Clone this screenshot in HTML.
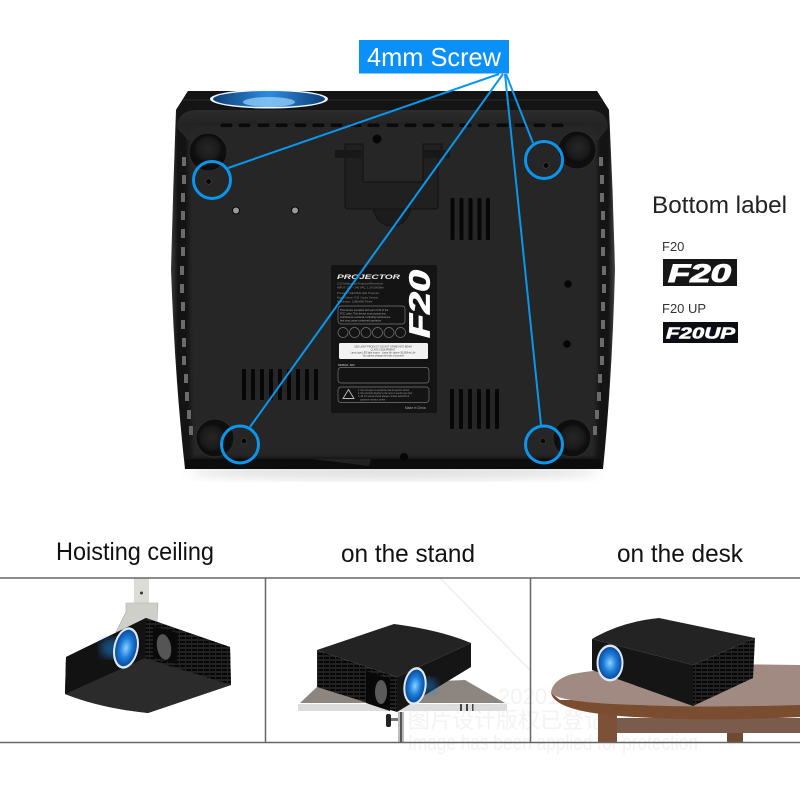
<!DOCTYPE html>
<html lang="en"><head><meta charset="utf-8"><title>F20 projector bottom view</title>
<style>html,body{margin:0;padding:0;background:#fff}svg{display:block}text{font-family:"Liberation Sans","Noto Sans CJK SC",sans-serif}</style></head>
<body>
<svg width="800" height="800" viewBox="0 0 800 800" xmlns="http://www.w3.org/2000/svg">
<defs>
<linearGradient id="shell" x1="0" x2="1" y1="0" y2="0"><stop offset="0" stop-color="#3a3a3a"/><stop offset=".015" stop-color="#141414"/><stop offset=".985" stop-color="#141414"/><stop offset="1" stop-color="#444"/></linearGradient>
<linearGradient id="band" x1="0" x2="0" y1="0" y2="1"><stop offset="0" stop-color="#2c2c2c"/><stop offset=".5" stop-color="#232323"/><stop offset="1" stop-color="#282828"/></linearGradient>
<linearGradient id="lensTop" x1="0" x2="1" y1="0" y2="0"><stop offset="0" stop-color="#0d3f78"/><stop offset=".5" stop-color="#2f8be0"/><stop offset="1" stop-color="#0d3f78"/></linearGradient>
<radialGradient id="lens" cx="50%" cy="50%" r="55%"><stop offset="0" stop-color="#8fd0fb"/><stop offset=".5" stop-color="#1c7fdc"/><stop offset="1" stop-color="#0a3f8c"/></radialGradient>
<radialGradient id="foot" cx="50%" cy="45%" r="55%"><stop offset="0" stop-color="#262626"/><stop offset=".7" stop-color="#1a1a1a"/><stop offset="1" stop-color="#0a0a0a"/></radialGradient>
<filter id="blur"><feGaussianBlur stdDeviation="5"/></filter>
<filter id="glow"><feGaussianBlur stdDeviation="4"/></filter>
<filter id="soft"><feGaussianBlur stdDeviation="2"/></filter>
<pattern id="grill" width="6" height="4" patternUnits="userSpaceOnUse"><rect width="6" height="4" fill="#222"/><rect x="0" y="1" width="5" height="2" fill="#070707"/></pattern>
</defs>
<rect width="800" height="800" fill="#fff"/>

<!-- shadow -->
<ellipse cx="394" cy="472" rx="205" ry="8" fill="#c4c4c4" opacity=".5" filter="url(#blur)"/>

<!-- main body -->
<path d="M188 91H597L609 110Q613 190 615 270Q612 380 603 469H185Q175 380 171 270Q173 190 176 110Z" fill="url(#shell)"/>
<path d="M188 91H597L609 110H176Z" fill="#141414"/>
<path d="M183 100H603" stroke="#2c2c2c" stroke-width="1"/>
<ellipse cx="269" cy="99" rx="59" ry="9.500" fill="#eef6ff"/>
<ellipse cx="269" cy="99" rx="56" ry="8" fill="url(#lensTop)"/>
<ellipse cx="269" cy="102" rx="26" ry="5" fill="#9fd6fb" opacity=".7"/>

<path d="M177 128Q177 111 196 110H590Q608 111 608 128L598 140H188Z" fill="url(#band)"/>
<path d="M196 126H590Q597 130 598 142L598 370L595 457H192L190 370L188 142Q189 130 196 126Z" fill="#282828" filter="url(#soft)"/>
<path d="M186 459H600L603 469H185Z" fill="#0c0c0c"/>
<path d="M312 459L369 466L371 459Z" fill="#222"/>

<!-- top slots -->
<g fill="#0a0a0a" stroke="#3a3a3a" stroke-width=".4">
<rect x="220" y="123" width="13" height="4.500" rx="2"/><rect x="238" y="123" width="13" height="4.500" rx="2"/><rect x="257" y="123" width="13" height="4.500" rx="2"/><rect x="275" y="123" width="13" height="4.500" rx="2"/><rect x="294" y="123" width="13" height="4.500" rx="2"/><rect x="312" y="123" width="13" height="4.500" rx="2"/><rect x="330" y="123" width="13" height="4.500" rx="2"/><rect x="349" y="123" width="13" height="4.500" rx="2"/><rect x="367" y="123" width="13" height="4.500" rx="2"/><rect x="386" y="123" width="13" height="4.500" rx="2"/><rect x="404" y="123" width="13" height="4.500" rx="2"/><rect x="422" y="123" width="13" height="4.500" rx="2"/><rect x="441" y="123" width="13" height="4.500" rx="2"/><rect x="459" y="123" width="13" height="4.500" rx="2"/><rect x="477" y="123" width="13" height="4.500" rx="2"/><rect x="496" y="123" width="13" height="4.500" rx="2"/><rect x="514" y="123" width="13" height="4.500" rx="2"/><rect x="533" y="123" width="13" height="4.500" rx="2"/><rect x="551" y="123" width="13" height="4.500" rx="2"/>
</g>
<!-- side slots -->
<g fill="#6b6b6b">
<rect x="182" y="157" width="4" height="9"/><rect x="182" y="175" width="4" height="9"/><rect x="181" y="193" width="4" height="9"/><rect x="181" y="211" width="4" height="9"/><rect x="181" y="229" width="4" height="9"/><rect x="181" y="247" width="4" height="9"/><rect x="180" y="266" width="4" height="9"/><rect x="180" y="284" width="4" height="9"/><rect x="181" y="302" width="4" height="9"/><rect x="181" y="320" width="4" height="9"/><rect x="182" y="338" width="4" height="9"/><rect x="182" y="356" width="4" height="9"/><rect x="184" y="374" width="4" height="9"/><rect x="185" y="392" width="4" height="9"/><rect x="187" y="410" width="4" height="9"/><rect x="189" y="426" width="4" height="9"/>
<rect x="599" y="157" width="4" height="9"/><rect x="600" y="175" width="4" height="9"/><rect x="600" y="193" width="4" height="9"/><rect x="601" y="211" width="4" height="9"/><rect x="601" y="229" width="4" height="9"/><rect x="601" y="247" width="4" height="9"/><rect x="602" y="266" width="4" height="9"/><rect x="602" y="284" width="4" height="9"/><rect x="601" y="302" width="4" height="9"/><rect x="601" y="320" width="4" height="9"/><rect x="600" y="338" width="4" height="9"/><rect x="600" y="356" width="4" height="9"/><rect x="598" y="374" width="4" height="9"/><rect x="597" y="392" width="4" height="9"/><rect x="595" y="410" width="4" height="9"/><rect x="593" y="426" width="4" height="9"/>
</g>

<!-- hinge -->
<path d="M373 209Q378 226 392 226Q406 226 411 209Z" fill="#1c1c1c" stroke="#141414"/>
<path d="M345 158V144H363V182H423V144H442V158H438V206Q438 209 435 209H348Q345 209 345 206Z" fill="#202020" stroke="#111" stroke-width="1"/>
<rect x="335" y="150" width="26" height="8" fill="#181818"/><rect x="424" y="150" width="26" height="8" fill="#181818"/>
<circle cx="377" cy="139" r="4.500" fill="#060606"/>

<!-- vents -->
<g fill="#070707">
<rect x="450.500" y="198" width="4" height="42" rx="1"/><rect x="459.500" y="198" width="4" height="42" rx="1"/><rect x="468.500" y="198" width="4" height="42" rx="1"/><rect x="477.500" y="198" width="4" height="42" rx="1"/><rect x="486" y="198" width="4" height="42" rx="1"/>
<rect x="242" y="369" width="4" height="31" rx="1"/><rect x="251" y="369" width="4" height="31" rx="1"/><rect x="260" y="369" width="4" height="31" rx="1"/><rect x="269" y="369" width="4" height="31" rx="1"/><rect x="278" y="369" width="4" height="31" rx="1"/><rect x="287" y="369" width="4" height="31" rx="1"/><rect x="296" y="369" width="4" height="31" rx="1"/><rect x="305" y="369" width="4" height="31" rx="1"/><rect x="314" y="369" width="4" height="31" rx="1"/>
<rect x="450" y="389" width="4" height="40" rx="1"/><rect x="459" y="389" width="4" height="40" rx="1"/><rect x="468" y="389" width="4" height="40" rx="1"/><rect x="477" y="389" width="4" height="40" rx="1"/><rect x="486" y="389" width="4" height="40" rx="1"/><rect x="495" y="389" width="4" height="40" rx="1"/>
</g>

<!-- feet -->
<g>
<circle cx="208" cy="152" r="19" fill="#0e0e0e" stroke="#2c2c2c"/><circle cx="208" cy="150" r="14" fill="url(#foot)"/>
<circle cx="577" cy="150" r="19" fill="#0e0e0e" stroke="#2c2c2c"/><circle cx="578" cy="149" r="14" fill="url(#foot)"/>
<circle cx="215" cy="438" r="19" fill="#0e0e0e" stroke="#2c2c2c"/><circle cx="212" cy="439" r="14" fill="url(#foot)"/>
<circle cx="572" cy="438" r="19" fill="#0e0e0e" stroke="#2c2c2c"/><circle cx="573" cy="439" r="14" fill="url(#foot)"/>
</g>
<!-- screws & holes -->
<g fill="#050505" stroke="#444" stroke-width=".6">
<circle cx="208.500" cy="181.500" r="2.800"/><circle cx="546" cy="165.500" r="2.800"/><circle cx="244" cy="441" r="2.800"/><circle cx="543" cy="441" r="2.800"/>
</g>
<circle cx="236" cy="210.500" r="3.500" fill="#9a9a9a" stroke="#0a0a0a"/><circle cx="295" cy="210.500" r="3.500" fill="#9a9a9a" stroke="#0a0a0a"/>
<circle cx="568" cy="284" r="3.800" fill="#050505"/><circle cx="567" cy="344" r="3.800" fill="#050505"/><circle cx="404" cy="457" r="4" fill="#060606"/>

<!-- device label -->
<rect x="331" y="265" width="106" height="148" rx="2" fill="#141414"/>
<text x="337" y="279" font-size="6.500" font-weight="700" font-style="italic" fill="#eee" textLength="63" lengthAdjust="spacingAndGlyphs">PROJECTOR</text>
<g fill="#888" font-size="2.800">
<text x="337" y="284.500">LCD Multimedia Projector/Ppresenter</text>
<text x="337" y="288.500">INPUT: 100 ~ 240 VAC, 1.5A 50/60Hz</text>
<text x="337" y="294">Product: THEATER LED Projector</text>
<text x="337" y="298.500">Model Name: F20 / basic Version</text>
<text x="337" y="302.500">Resolution: 1280x800 Pixels</text>
</g>
<rect x="338" y="306" width="67" height="18" rx="3" fill="none" stroke="#777" stroke-width=".7"/>
<g fill="#aaa" font-size="2.600">
<text x="340" y="311">This device complies with part of 15 of the</text>
<text x="340" y="314.500">FCC rules. This device must accept any</text>
<text x="340" y="318">interference received, including interference</text>
<text x="340" y="321.500">that may cause undesired operation.</text>
</g>
<g fill="none" stroke="#777" stroke-width=".7"><circle cx="343" cy="332.500" r="5"/><circle cx="354.500" cy="332.500" r="5"/><circle cx="366" cy="332.500" r="5"/><circle cx="377.500" cy="332.500" r="5"/><circle cx="389" cy="332.500" r="5"/><circle cx="400.500" cy="332.500" r="5"/></g>
<rect x="339" y="343" width="89" height="16" rx="1.500" fill="#f2f2f2"/>
<g fill="#444" font-size="2.400" text-anchor="middle">
<text x="383" y="347.500">LED LIGHT PRODUCT: DO NOT STARE INTO BEAM</text>
<text x="383" y="350.500">CLASS 3 EQUIPMENT</text>
<text x="383" y="353.500">Lamp type LED light source · Lamp life: above 30,000hrs Life</text>
<text x="383" y="356.500">You cannot change the bulb of yourself</text>
</g>
<text x="338" y="366" font-size="3" fill="#aaa" font-weight="700">SERIAL NO:</text>
<rect x="338" y="367.500" width="91" height="15.500" rx="3" fill="none" stroke="#777" stroke-width=".7"/>
<rect x="338" y="387" width="91" height="15.500" rx="3" fill="none" stroke="#777" stroke-width=".7"/>
<path d="M348.500 389.500L343 398.500H354Z" fill="none" stroke="#bbb" stroke-width=".9"/>
<g fill="#999" font-size="2.400">
<text x="358" y="391">1. Do not open to avoid the risk of electric shock</text>
<text x="358" y="394">2. Do not look directly to the lens to avoid eyes hurt.</text>
<text x="358" y="397">3. All of manual check please contact authorized</text>
<text x="360" y="400.500">customer service center</text>
</g>
<text x="405" y="409" font-size="3.200" fill="#aaa">Made in China</text>
<text transform="translate(429.500 338) rotate(-90)" font-size="29" font-weight="700" font-style="italic" fill="#fff" textLength="68" lengthAdjust="spacingAndGlyphs" stroke="#fff" stroke-width=".8">F20</text>

<!-- callouts -->
<g fill="none" stroke="#0b96ee" stroke-width="2">
<path d="M499 74L228 168"/><path d="M503 74L250 427"/><path d="M505 74L541 425"/><path d="M506 74L533 143"/>
</g>
<g fill="none" stroke="#0b96ee" stroke-width="3">
<circle cx="212" cy="180" r="18.500"/><circle cx="544" cy="160" r="18.500"/><circle cx="240" cy="444.500" r="18.500"/><circle cx="544" cy="444.500" r="18.500"/>
</g>
<rect x="359" y="40" width="150" height="33.500" fill="#0a90f7"/>
<text x="367" y="66" font-size="26" fill="#fff" textLength="134" lengthAdjust="spacingAndGlyphs">4mm Screw</text>

<!-- legend -->
<text x="652" y="213" font-size="24.500" fill="#222" textLength="135" lengthAdjust="spacingAndGlyphs">Bottom label</text>
<text x="662" y="251" font-size="13" fill="#333">F20</text>
<rect x="663" y="259" width="74" height="27" fill="#161616"/>
<text x="668" y="282" font-size="25" font-weight="700" font-style="italic" fill="#fff" stroke="#fff" stroke-width="1" textLength="63" lengthAdjust="spacingAndGlyphs">F20</text>
<text x="662" y="313" font-size="13" fill="#333">F20 UP</text>
<rect x="663" y="322" width="75" height="21" fill="#0c0c14"/>
<text x="666" y="338.500" font-size="16" font-weight="700" font-style="italic" fill="#fff" stroke="#fff" stroke-width=".6" textLength="69" lengthAdjust="spacingAndGlyphs">F20UP</text>

<!-- section captions -->
<text x="56" y="560" font-size="25" fill="#111" textLength="158" lengthAdjust="spacingAndGlyphs">Hoisting ceiling</text>
<text x="341" y="562" font-size="25" fill="#111" textLength="134" lengthAdjust="spacingAndGlyphs">on the stand</text>
<text x="617" y="562" font-size="25" fill="#111" textLength="126" lengthAdjust="spacingAndGlyphs">on the desk</text>

<!-- watermark -->
<path d="M440 578L530 670" stroke="#eeeeee" stroke-width="1.500" fill="none"/>
<g fill="#f3f3f3">
<text x="498" y="704" font-size="22">20201616</text>
<text x="408" y="728" font-size="22">图片设计版权已登记，盗版必究</text>
<text x="408" y="750" font-size="22" textLength="290" lengthAdjust="spacingAndGlyphs">Image has been applied for protection</text>
</g>

<!-- ceiling scene -->
<rect x="134" y="578" width="15" height="26" fill="#dcdcd6"/>
<circle cx="141.500" cy="593" r="1.500" fill="#333"/>
<path d="M126 603H158L157 622L130 632L116 632L126 612Z" fill="#cfcfca" stroke="#aaa" stroke-width=".6"/>
<path d="M146 618L230 647L231 685L148 713Q100 708 65 694L66 657Z" fill="#1c1c1c"/>
<path d="M145 658L231 685L148 713Q100 708 65 694Z" fill="#2b2b2b"/>
<path d="M146 618L145 658L65 694L66 657Z" fill="#121212"/>
<path d="M146 618L230 647L231 685L145 658Z" fill="url(#grill)"/>
<path d="M153 626L178 633L177 664L153 657Z" fill="#0a0a0a"/>
<ellipse cx="164" cy="647" rx="7" ry="13" fill="#555" transform="rotate(-10 164 647)"/>
<ellipse cx="112" cy="648" rx="12" ry="10" fill="#1b88e6" opacity=".5" filter="url(#glow)"/>
<ellipse cx="126" cy="648" rx="12.500" ry="21" transform="rotate(12 126 648)" fill="#dce9f5"/>
<ellipse cx="126" cy="648" rx="10.500" ry="18.500" transform="rotate(12 126 648)" fill="url(#lens)"/>

<!-- stand scene -->
<path d="M318 686L300 703H505L465 680Z" fill="#8d8680"/>
<rect x="298" y="704" width="209" height="7" fill="#dcdcdc"/>
<g fill="#444"><rect x="460" y="704" width="2" height="7"/><rect x="466" y="704" width="2" height="7"/><rect x="472" y="704" width="1.500" height="7"/></g>
<rect x="398" y="712" width="6" height="30" fill="#bdbdbd"/>
<rect x="400" y="712" width="2" height="30" fill="#555"/>
<rect x="386" y="714" width="5" height="13" rx="2" fill="#222"/><rect x="391" y="718" width="7" height="3" fill="#777"/>
<path d="M394 624Q440 630 471 643L397 677L317 650Z" fill="#232323"/>
<path d="M317 650L397 677V712L317 687Z" fill="url(#grill)"/>
<path d="M397 677L471 643V667L397 712Z" fill="#151515"/>
<path d="M366 671L390 679V711L366 703Z" fill="#080808"/>
<ellipse cx="381" cy="692" rx="6" ry="12" fill="#5a5a5a"/>
<ellipse cx="428" cy="686" rx="10" ry="8" fill="#1b88e6" opacity=".45" filter="url(#glow)"/>
<ellipse cx="415" cy="686" rx="11.500" ry="19" transform="rotate(8 415 686)" fill="#dce9f5"/>
<ellipse cx="415" cy="686" rx="9.500" ry="16.500" transform="rotate(8 415 686)" fill="url(#lens)"/>

<!-- desk scene -->
<path d="M617 718H800V733H617Z" fill="#7b5b4b"/>
<rect x="598" y="710" width="19" height="32" fill="#7d5038"/>
<rect x="727" y="733" width="16" height="9" fill="#6f4a35"/>
<path d="M551 693Q555 711 620 716Q700 722 800 717V700H560Z" fill="#7a4d30"/>
<path d="M551 693Q552 680 572 674Q640 662 800 665V705Q700 708 640 705Q560 703 551 693Z" fill="#a08a82"/>
<path d="M659 618Q620 622 592 639L693 665L755 638Z" fill="#232323"/>
<path d="M592 639L693 665V706L592 670Z" fill="#151515"/>
<path d="M693 665L755 638L753 678L693 706Z" fill="url(#grill)"/>
<ellipse cx="610" cy="663" rx="13.500" ry="18.500" fill="#dce9f5"/>
<ellipse cx="610" cy="663" rx="11.500" ry="16" fill="url(#lens)"/>

<!-- frame -->
<g stroke="#666" stroke-width="1.500" fill="none">
<path d="M0 578H800"/><path d="M0 742.500H800"/><path d="M265.500 578V742"/><path d="M530.500 578V742"/>
</g>
</svg>
</body></html>
